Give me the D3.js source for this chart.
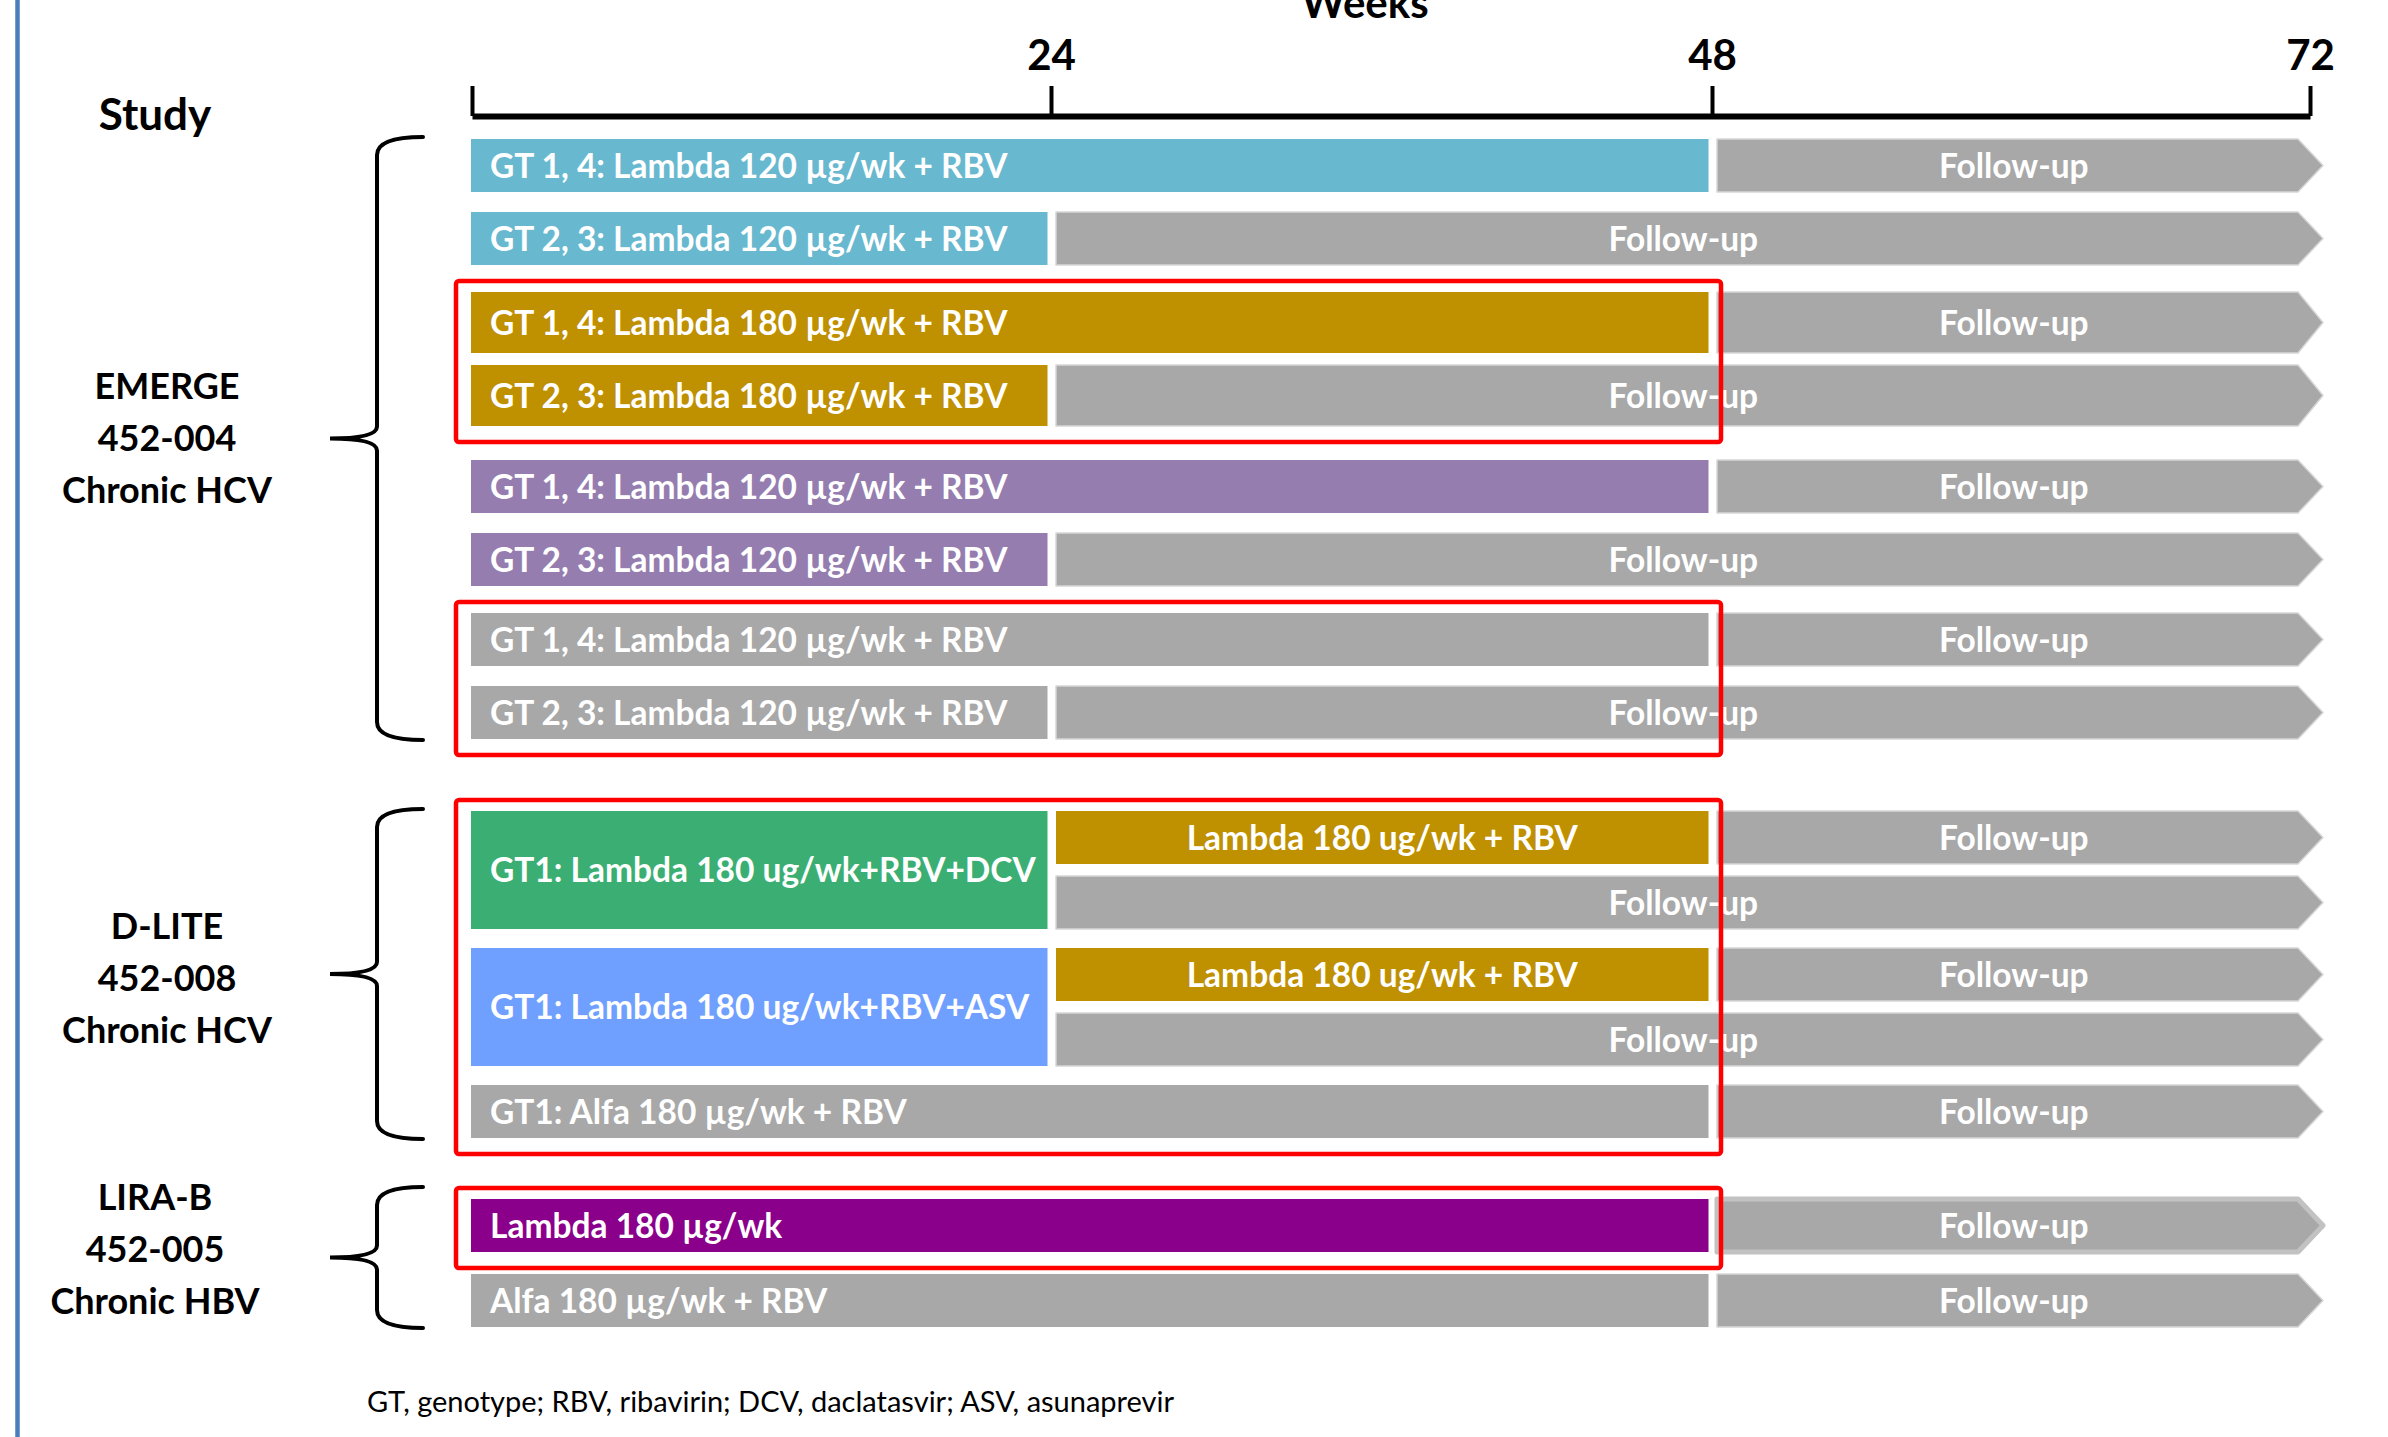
<!DOCTYPE html>
<html>
<head>
<meta charset="utf-8">
<script src="https://cdn.jsdelivr.net/npm/d3@7"></script>
<style>
  html, body { margin: 0; padding: 0; background: #ffffff; }
  svg { display: block; }
</style>
</head>
<body>
<script>
// ---- Timeline ticks (weeks) ----
const weekTicks = [0, 24, 48, 72];
const axisTitle = "Weeks";
const columnTitle = "Study";

// ---- Studies ----
const studyNames = ["EMERGE", "D-LITE", "LIRA-B"];
const studyCodes = ["452-004", "452-008", "452-005"];
const studyIndications = ["Chronic HCV", "Chronic HCV", "Chronic HBV"];

// ---- Treatment rows (segments in weeks) ----
const rows = [
  { study: "EMERGE", group: "A", segments: [
    { from: 0, to: 48, kind: "armA", label: "GT 1, 4: Lambda 120 µg/wk + RBV" },
    { from: 48, to: 72, kind: "followup", label: "Follow-up" } ] },
  { study: "EMERGE", group: "A", segments: [
    { from: 0, to: 24, kind: "armA", label: "GT 2, 3: Lambda 120 µg/wk + RBV" },
    { from: 24, to: 72, kind: "followup", label: "Follow-up" } ] },
  { study: "EMERGE", group: "B", segments: [
    { from: 0, to: 48, kind: "armB", label: "GT 1, 4: Lambda 180 µg/wk + RBV" },
    { from: 48, to: 72, kind: "followup", label: "Follow-up" } ] },
  { study: "EMERGE", group: "B", segments: [
    { from: 0, to: 24, kind: "armB", label: "GT 2, 3: Lambda 180 µg/wk + RBV" },
    { from: 24, to: 72, kind: "followup", label: "Follow-up" } ] },
  { study: "EMERGE", group: "C", segments: [
    { from: 0, to: 48, kind: "armC", label: "GT 1, 4: Lambda 120 µg/wk + RBV" },
    { from: 48, to: 72, kind: "followup", label: "Follow-up" } ] },
  { study: "EMERGE", group: "C", segments: [
    { from: 0, to: 24, kind: "armC", label: "GT 2, 3: Lambda 120 µg/wk + RBV" },
    { from: 24, to: 72, kind: "followup", label: "Follow-up" } ] },
  { study: "EMERGE", group: "D", segments: [
    { from: 0, to: 48, kind: "armD", label: "GT 1, 4: Lambda 120 µg/wk + RBV" },
    { from: 48, to: 72, kind: "followup", label: "Follow-up" } ] },
  { study: "EMERGE", group: "D", segments: [
    { from: 0, to: 24, kind: "armD", label: "GT 2, 3: Lambda 120 µg/wk + RBV" },
    { from: 24, to: 72, kind: "followup", label: "Follow-up" } ] },
  { study: "D-LITE", group: "DCV", segments: [
    { from: 0, to: 24, kind: "dcv", label: "GT1: Lambda 180 ug/wk+RBV+DCV", span: 2 },
    { from: 24, to: 48, kind: "lambdaRbv", label: "Lambda 180 ug/wk + RBV" },
    { from: 48, to: 72, kind: "followup", label: "Follow-up" } ] },
  { study: "D-LITE", group: "DCV", segments: [
    { from: 24, to: 72, kind: "followup", label: "Follow-up" } ] },
  { study: "D-LITE", group: "ASV", segments: [
    { from: 0, to: 24, kind: "asv", label: "GT1: Lambda 180 ug/wk+RBV+ASV", span: 2 },
    { from: 24, to: 48, kind: "lambdaRbv", label: "Lambda 180 ug/wk + RBV" },
    { from: 48, to: 72, kind: "followup", label: "Follow-up" } ] },
  { study: "D-LITE", group: "ASV", segments: [
    { from: 24, to: 72, kind: "followup", label: "Follow-up" } ] },
  { study: "D-LITE", group: "Alfa", segments: [
    { from: 0, to: 48, kind: "alfa", label: "GT1: Alfa 180 µg/wk + RBV" },
    { from: 48, to: 72, kind: "followup", label: "Follow-up" } ] },
  { study: "LIRA-B", group: "Lambda", segments: [
    { from: 0, to: 48, kind: "lambdaHbv", label: "Lambda 180 µg/wk" },
    { from: 48, to: 72, kind: "followup", label: "Follow-up" } ] },
  { study: "LIRA-B", group: "Alfa", segments: [
    { from: 0, to: 48, kind: "alfa", label: "Alfa 180 µg/wk + RBV" },
    { from: 48, to: 72, kind: "followup", label: "Follow-up" } ] }
];

// ---- Highlighted arms (row ranges, week span) ----
const highlights = [
  { first: 2, last: 3, from: 0, to: 48 },
  { first: 6, last: 7, from: 0, to: 48 },
  { first: 8, last: 12, from: 0, to: 48 },
  { first: 13, last: 13, from: 0, to: 48 }
];

const footnote = "GT, genotype; RBV, ribavirin; DCV, daclatasvir; ASV, asunaprevir";

// ---- Styling ----
const colors = {
  armA: "#68B8CF", armB: "#BF9000", armC: "#957DB0", armD: "#A8A8A8",
  dcv: "#3BAF73", asv: "#6FA0FF", lambdaRbv: "#BF9000", alfa: "#A8A8A8",
  lambdaHbv: "#8B008B", followup: "#A8A8A8"
};
const FONT = "Lato, 'Open Sans', 'DejaVu Sans', sans-serif";
const BAR_FONT_SIZE = 33.5;
const W = 2388, H = 1437;
const ROW_H = 53, TALL_H = 61;
const tallRows = new Set([2, 3]);
const outlinedRows = new Set([13]);
const studyLayout = {
  "EMERGE": { pitch: 73, groupGap: 27, gapBefore: 0,  labelX: 167, labelDy: 0,   braceTop: 2 },
  "D-LITE": { pitch: 65, groupGap: 19, gapBefore: 72, labelX: 167, labelDy: 5,   braceTop: 2 },
  "LIRA-B": { pitch: 75, groupGap: 15, gapBefore: 61, labelX: 155, labelDy: -8, braceTop: 12 }
};
const FIRST_ROW_Y = 139;

const svg = d3.select("body").append("svg")
  .attr("width", W).attr("height", H)
  .attr("font-family", FONT);

// Week scale (slide timeline is not evenly spaced, so it's piecewise linear)
const x = d3.scaleLinear().domain(weekTicks).range([472, 1051, 1712, 2310]);

// ---- Row layout ----
const rowHeight = i => tallRows.has(i) ? TALL_H : ROW_H;
const rowY = [];
const exitsHighlight = new Set(highlights.map(h => h.last));
rows.forEach((r, i) => {
  if (i === 0) { rowY.push(FIRST_ROW_Y); return; }
  const prev = rows[i - 1];
  const lay = studyLayout[r.study];
  const prevBottom = rowY[i - 1] + rowHeight(i - 1);
  if (prev.study !== r.study) {
    rowY.push(prevBottom + lay.gapBefore);
  } else if (prev.group === r.group) {
    rowY.push(rowY[i - 1] + lay.pitch);
  } else {
    rowY.push(prevBottom + lay.groupGap + (exitsHighlight.has(i - 1) ? 7 : 0));
  }
});

// Left page rule
svg.append("line")
  .attr("x1", 17.5).attr("x2", 17.5).attr("y1", 0).attr("y2", H)
  .attr("stroke", "#4A7EBB").attr("stroke-width", 4.5);

// ---- Axis ----
const axis = d3.axisTop(x)
  .tickValues(weekTicks)
  .tickFormat(d => d === 0 ? "" : d)
  .tickSize(30).tickSizeOuter(0).tickPadding(16);
const gAxis = svg.append("g").attr("transform", "translate(0,116)").call(axis);
gAxis.select(".domain").attr("stroke", "#000").attr("stroke-width", 6);
gAxis.selectAll(".tick line").attr("stroke", "#000").attr("stroke-width", 4);
gAxis.selectAll(".tick text")
  .attr("fill", "#000").attr("font-size", 42).attr("font-weight", 700)
  .attr("font-family", FONT);

svg.append("text").attr("x", 1365).attr("y", 18)
  .attr("text-anchor", "middle").attr("font-size", 42).attr("font-weight", 700)
  .text(axisTitle);
svg.append("text").attr("x", 155).attr("y", 130)
  .attr("text-anchor", "middle").attr("font-size", 44).attr("font-weight", 700)
  .text(columnTitle);

// ---- Segments ----
const segData = [];
rows.forEach((r, i) => r.segments.forEach(s => {
  const span = s.span || 1;
  const y0 = rowY[i];
  const h = span > 1 ? rowY[i + span - 1] + rowHeight(i + span - 1) - y0 : rowHeight(i);
  segData.push({ ...s, row: i, y0, h });
}));

const gBars = svg.append("g");
segData.forEach(s => {
  const x0 = s.from === 0 ? x(0) - 1 : x(s.from) + 5;
  if (s.kind === "followup") {
    const tip = x(s.to) + 13, shoulder = x(s.to) - 12;
    const p = d3.path();
    p.moveTo(x0, s.y0); p.lineTo(shoulder, s.y0); p.lineTo(tip, s.y0 + s.h / 2);
    p.lineTo(shoulder, s.y0 + s.h); p.lineTo(x0, s.y0 + s.h); p.closePath();
    const outlined = outlinedRows.has(s.row);
    gBars.append("path").attr("d", p.toString())
      .attr("fill", colors.followup)
      .attr("stroke", outlined ? "#C2C2C2" : "#D6D6D6")
      .attr("stroke-width", outlined ? 5 : 1.5)
      .attr("stroke-linejoin", "round");
    const cx = (x0 + (shoulder + tip) / 2) / 2;
    gBars.append("text").attr("x", cx).attr("y", s.y0 + s.h / 2)
      .attr("dy", "0.36em").attr("text-anchor", "middle")
      .attr("fill", "#fff").attr("font-size", BAR_FONT_SIZE).attr("font-weight", 700)
      .text(s.label);
  } else {
    const x1 = x(s.to) - 3.5;
    gBars.append("rect").attr("x", x0).attr("y", s.y0)
      .attr("width", x1 - x0).attr("height", s.h)
      .attr("fill", colors[s.kind]);
    const left = s.from === 0;
    gBars.append("text")
      .attr("x", left ? x0 + 19 : (x0 + x1) / 2)
      .attr("y", s.y0 + s.h / 2).attr("dy", "0.36em")
      .attr("text-anchor", left ? "start" : "middle")
      .attr("fill", "#fff").attr("font-size", BAR_FONT_SIZE).attr("font-weight", 700)
      .text(s.label);
  }
});

// ---- Highlight boxes ----
svg.append("g").selectAll("rect").data(highlights).join("rect")
  .attr("x", d => x(d.from) - 16)
  .attr("y", d => rowY[d.first] - 11)
  .attr("width", d => x(d.to) + 9 - (x(d.from) - 16))
  .attr("height", d => rowY[d.last] + rowHeight(d.last) + 16 - (rowY[d.first] - 11))
  .attr("rx", 3)
  .attr("fill", "none").attr("stroke", "#FF0000").attr("stroke-width", 4.5);

// ---- Study braces and labels ----
function bracePath(xv, y0, y1, xEnd, xTip) {
  const ym = (y0 + y1) / 2;
  const p = d3.path();
  p.moveTo(xEnd, y0);
  p.quadraticCurveTo(xv, y0, xv, y0 + 18);
  p.lineTo(xv, ym - 12);
  p.quadraticCurveTo(xv, ym, xTip, ym);
  p.quadraticCurveTo(xv, ym, xv, ym + 12);
  p.lineTo(xv, y1 - 18);
  p.quadraticCurveTo(xv, y1, xEnd, y1);
  return p.toString();
}

studyNames.forEach((name, k) => {
  const idx = rows.map((r, i) => r.study === name ? i : -1).filter(i => i >= 0);
  const first = idx[0], last = idx[idx.length - 1];
  const lay = studyLayout[name];
  const y0 = rowY[first] - lay.braceTop, y1 = rowY[last] + rowHeight(last) + 1;
  const ym = (y0 + y1) / 2;
  svg.append("path").attr("d", bracePath(377, y0, y1, 423, 330))
    .attr("fill", "none").attr("stroke", "#000").attr("stroke-width", 4)
    .attr("stroke-linecap", "round");
  const t = svg.append("text").attr("text-anchor", "middle")
    .attr("font-size", 36).attr("font-weight", 700).attr("fill", "#000");
  [name, studyCodes[k], studyIndications[k]].forEach((line, j) => {
    t.append("tspan").attr("x", lay.labelX).attr("y", ym - 40 + lay.labelDy + j * 52).text(line);
  });
});

// ---- Footnote ----
svg.append("text").attr("x", 367).attr("y", 1412)
  .attr("font-size", 29).attr("fill", "#000")
  .text(footnote);
</script>
</body>
</html>
